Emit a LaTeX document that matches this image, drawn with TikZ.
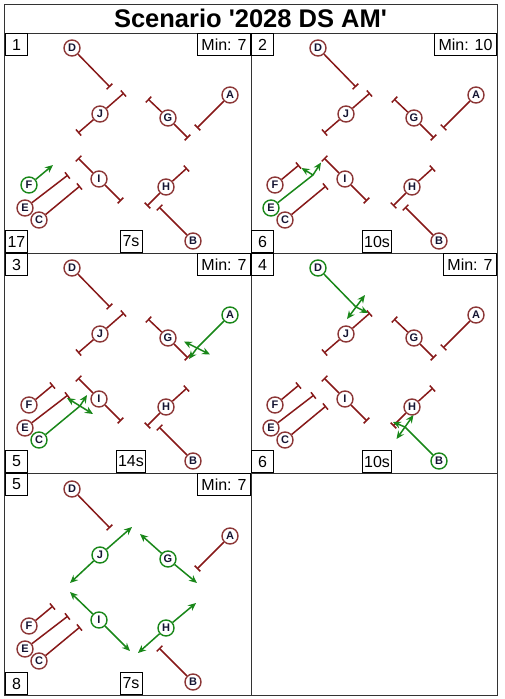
\documentclass[tikz,border=0pt]{standalone}
\usepackage{fontspec}
\newfontfamily\lsans{Liberation Sans}
\usetikzlibrary{arrows.meta}
\definecolor{lred}{RGB}{135,25,25}
\definecolor{nred}{RGB}{140,55,55}
\definecolor{lgreen}{RGB}{25,135,25}
\definecolor{ntext}{RGB}{20,20,50}
\newcommand\tplcoords[1]{%
\coordinate (#1Dp) at (67,15);
\coordinate (#1Jp) at (95,81);
\coordinate (#1Gp) at (163,85);
\coordinate (#1Ap) at (225,62);
\coordinate (#1Ip) at (94,146);
\coordinate (#1Hp) at (161,154);
\coordinate (#1Bp) at (188,208);
\coordinate (#1Fp) at (24,152);
\coordinate (#1Ep) at (20,175);
\coordinate (#1Cp) at (34,187);
\coordinate (#1De) at (105,54);
\coordinate (#1Ja) at (73,100); \coordinate (#1Jb) at (119,60);
\coordinate (#1Ga) at (143,66); \coordinate (#1Gb) at (183,105);
\coordinate (#1Ae) at (192,95);
\coordinate (#1Ia) at (73,125); \coordinate (#1Ib) at (116,168);
\coordinate (#1Ha) at (142,173); \coordinate (#1Hb) at (182,135);
\coordinate (#1Be) at (154,174);
\coordinate (#1Fe) at (48,132);
\coordinate (#1Ee) at (63,142);
\coordinate (#1Ce) at (75,153);
}
\newcommand\nd[3]{\node[#2] (#1#3) at (#1#3p) {#3};}
\newcommand\rdr[3]{\draw[rl] (#1#2) -- (#1#3);}
\begin{document}
\begin{tikzpicture}[x=1pt,y=-1pt,
 rc/.style={circle, draw=nred, line width=1.4pt, fill=white, inner sep=0pt, minimum size=16pt, font=\lsans\bfseries\fontsize{11}{11}\selectfont, text=ntext},
 gc/.style={rc, draw=lgreen},
 rl/.style={lred, line width=1.5pt, -{Bar[width=8pt]}},
 gl/.style={lgreen, line width=1.5pt, line join=round, -{Stealth[length=8pt,width=7pt]}},
 gll/.style={lgreen, line width=1.5pt, {Stealth[length=8pt,width=7pt]}-{Stealth[length=8pt,width=7pt]}},
 lbl/.style={draw=black, line width=1pt, fill=white, font=\lsans\fontsize{16}{16}\selectfont, minimum height=22pt, minimum width=22pt, inner xsep=2pt, inner ysep=0pt},
 minbox/.style={lbl, inner xsep=4pt},
 frame/.style={draw=black!80, line width=1pt}]
\useasboundingbox (0,0) rectangle (504,699);
\fill[white] (0,0) rectangle (504,699);
% frame
\draw[frame] (4,4) rectangle (497,695);
\draw[frame] (4,33) -- (497,33);
\draw[frame] (251,33) -- (251,695);
\draw[frame] (4,253) -- (497,253);
\draw[frame] (4,473) -- (497,473);
\node[font=\lsans\bfseries\fontsize{25.5}{25.5}\selectfont] (title) at (250.5,18.5) {Scenario '2028 DS AM'};
% labels
\node[lbl, anchor=north west] (n1) at (5,33) {1};
\node[minbox, anchor=north east] (m1) at (251,33) {Min: 7};
\node[lbl, anchor=south west] (s1) at (5,253) {17};
\node[lbl, anchor=south] (t1) at (131,253) {7s};
\node[lbl, anchor=north west] (n2) at (251,33) {2};
\node[minbox, anchor=north east] (m2) at (497,33) {Min: 10};
\node[lbl, anchor=south west] (s2) at (251,253) {6};
\node[lbl, anchor=south] (t2) at (377,253) {10s};
\node[lbl, anchor=north west] (n3) at (5,253) {3};
\node[minbox, anchor=north east] (m3) at (251,253) {Min: 7};
\node[lbl, anchor=south west] (s3) at (5,473) {5};
\node[lbl, anchor=south] (t3) at (131,473) {14s};
\node[lbl, anchor=north west] (n4) at (251,253) {4};
\node[minbox, anchor=north east] (m4) at (497,253) {Min: 7};
\node[lbl, anchor=south west] (s4) at (251,473) {6};
\node[lbl, anchor=south] (t4) at (377,473) {10s};
\node[lbl, anchor=north west] (n5) at (5,473) {5};
\node[minbox, anchor=north east] (m5) at (251,473) {Min: 7};
\node[lbl, anchor=south west] (s5) at (5,695) {8};
\node[lbl, anchor=south] (t5) at (131,695) {7s};
% ---------- panel 1
\begin{scope}[shift={(5,33)}]
\tplcoords{a}
\nd{a}{rc}{D}\nd{a}{rc}{J}\nd{a}{rc}{G}\nd{a}{rc}{A}\nd{a}{rc}{I}
\nd{a}{rc}{H}\nd{a}{rc}{B}\nd{a}{gc}{F}\nd{a}{rc}{E}\nd{a}{rc}{C}
\end{scope}
\rdr{a}{D}{De}\rdr{a}{J}{Ja}\rdr{a}{J}{Jb}\rdr{a}{G}{Ga}\rdr{a}{G}{Gb}
\rdr{a}{A}{Ae}\rdr{a}{I}{Ia}\rdr{a}{I}{Ib}\rdr{a}{H}{Ha}\rdr{a}{H}{Hb}
\rdr{a}{B}{Be}\rdr{a}{E}{Ee}\rdr{a}{C}{Ce}
\draw[gl] (aF) -- (aFe);
% ---------- panel 2
\begin{scope}[shift={(251,33)}]
\tplcoords{b}
\coordinate (bEj) at (62,142);
\coordinate (bEt) at (70,129.5);
\coordinate (bEf) at (50.5,135);
\nd{b}{rc}{D}\nd{b}{rc}{J}\nd{b}{rc}{G}\nd{b}{rc}{A}\nd{b}{rc}{I}
\nd{b}{rc}{H}\nd{b}{rc}{B}\nd{b}{rc}{F}\nd{b}{gc}{E}\nd{b}{rc}{C}
\end{scope}
\rdr{b}{D}{De}\rdr{b}{J}{Ja}\rdr{b}{J}{Jb}\rdr{b}{G}{Ga}\rdr{b}{G}{Gb}
\rdr{b}{A}{Ae}\rdr{b}{I}{Ia}\rdr{b}{I}{Ib}\rdr{b}{H}{Ha}\rdr{b}{H}{Hb}
\rdr{b}{B}{Be}\rdr{b}{F}{Fe}\rdr{b}{C}{Ce}
\draw[gl] (bE) -- (bEj) -- (bEt);
\draw[gl] (bEj) -- (bEf);
% ---------- panel 3
\begin{scope}[shift={(5,253)}]
\tplcoords{c}
\coordinate (cAt) at (184,106);
\coordinate (cAx1) at (179,88.5);
\coordinate (cAx2) at (205,101.5);
\coordinate (cCt) at (82,142);
\coordinate (cCx1) at (62,145);
\coordinate (cCx2) at (88,161);
\nd{c}{rc}{D}\nd{c}{rc}{J}\nd{c}{rc}{G}\nd{c}{gc}{A}\nd{c}{rc}{I}
\nd{c}{rc}{H}\nd{c}{rc}{B}\nd{c}{rc}{F}\nd{c}{rc}{E}\nd{c}{gc}{C}
\end{scope}
\rdr{c}{D}{De}\rdr{c}{J}{Ja}\rdr{c}{J}{Jb}\rdr{c}{G}{Ga}\rdr{c}{G}{Gb}
\rdr{c}{I}{Ia}\rdr{c}{I}{Ib}\rdr{c}{H}{Ha}\rdr{c}{H}{Hb}
\rdr{c}{B}{Be}\rdr{c}{F}{Fe}\rdr{c}{E}{Ee}
\draw[gl] (cA) -- (cAe) -- (cAt);
\draw[gll] (cAx1) -- (cAx2);
\draw[gl] (cC) -- (cCe) -- (cCt);
\draw[gll] (cCx1) -- (cCx2);
% ---------- panel 4
\begin{scope}[shift={(251,253)}]
\tplcoords{d}
\coordinate (dDt) at (117,60);
\coordinate (dDx1) at (114,42);
\coordinate (dDx2) at (96,66);
\coordinate (dBt) at (142,169);
\coordinate (dBx1) at (162.5,162);
\coordinate (dBx2) at (145.5,186);
\nd{d}{gc}{D}\nd{d}{rc}{J}\nd{d}{rc}{G}\nd{d}{rc}{A}\nd{d}{rc}{I}
\nd{d}{rc}{H}\nd{d}{gc}{B}\nd{d}{rc}{F}\nd{d}{rc}{E}\nd{d}{rc}{C}
\end{scope}
\rdr{d}{J}{Ja}\rdr{d}{J}{Jb}\rdr{d}{G}{Ga}\rdr{d}{G}{Gb}
\rdr{d}{A}{Ae}\rdr{d}{I}{Ia}\rdr{d}{I}{Ib}\rdr{d}{H}{Ha}\rdr{d}{H}{Hb}
\rdr{d}{F}{Fe}\rdr{d}{E}{Ee}\rdr{d}{C}{Ce}
\draw[gl] (dD) -- (dDe) -- (dDt);
\draw[gll] (dDx1) -- (dDx2);
\draw[gl] (dB) -- (dBe) -- (dBt);
\draw[gll] (dBx1) -- (dBx2);
% ---------- panel 5
\begin{scope}[shift={(5,474)}]
\tplcoords{e}
\coordinate (eJ1) at (65,109); \coordinate (eJ2) at (127,53);
\coordinate (eG1) at (135,60); \coordinate (eG2) at (192,109);
\coordinate (eI1) at (65,118); \coordinate (eI2) at (125,177);
\coordinate (eH1) at (133,179); \coordinate (eH2) at (191,129);
\nd{e}{rc}{D}\nd{e}{gc}{J}\nd{e}{gc}{G}\nd{e}{rc}{A}\nd{e}{gc}{I}
\nd{e}{gc}{H}\nd{e}{rc}{B}\nd{e}{rc}{F}\nd{e}{rc}{E}\nd{e}{rc}{C}
\end{scope}
\rdr{e}{D}{De}\rdr{e}{A}{Ae}\rdr{e}{B}{Be}\rdr{e}{F}{Fe}\rdr{e}{E}{Ee}\rdr{e}{C}{Ce}
\draw[gl] (eJ) -- (eJ1); \draw[gl] (eJ) -- (eJ2);
\draw[gl] (eG) -- (eG1); \draw[gl] (eG) -- (eG2);
\draw[gl] (eI) -- (eI1); \draw[gl] (eI) -- (eI2);
\draw[gl] (eH) -- (eH1); \draw[gl] (eH) -- (eH2);
\end{tikzpicture}
\end{document}
